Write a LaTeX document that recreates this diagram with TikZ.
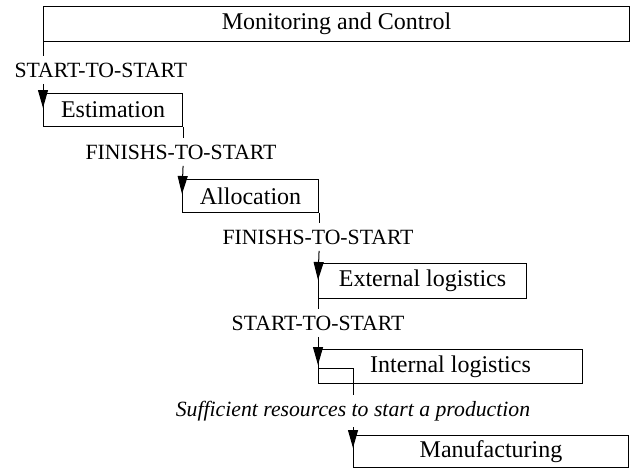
\documentclass[tikz,border=0pt]{standalone}
\usepackage{fontspec}
\setmainfont{Liberation Serif}
\usepackage{tikz}
\usetikzlibrary{arrows.meta,calc}

\tikzset{
  task/.style={draw, line width=0.8pt, anchor=north west, inner sep=0pt,
    font=\fontsize{18}{20}\selectfont},
  link/.style={inner xsep=0pt, inner ysep=4.5pt, font=\fontsize{16.3}{19}\selectfont},
  arr/.style={-{Triangle[length=13.5pt,width=7.5pt]}},
}

\begin{document}
\begin{tikzpicture}[x=0.75pt,y=0.75pt,yscale=-1,xscale=1,line width=0.75pt]
\useasboundingbox (0,0) rectangle (635,472);

%Shape: Rectangle [Monitoring]
\node [task, minimum width=439.5pt, minimum height=26.25pt] (mon) at (43,6) {Monitoring and Control};
%Shape: Rectangle [Estimation]
\node [task, minimum width=104.25pt, minimum height=24.75pt] (est) at (43,93) {Estimation};
%Shape: Rectangle [Allocation]
\node [task, minimum width=102pt, minimum height=24.75pt] (alloc) at (182,179) {Allocation};
%Shape: Rectangle [External logistics]
\node [task, minimum width=156pt, minimum height=26.25pt] (ext) at (318,263) {External logistics};
%Shape: Rectangle [Internal logistics]
\node [task, minimum width=198pt, minimum height=25.5pt] (int) at (318,349) {Internal logistics};
%Shape: Rectangle [Manufacturing]
\node [task, minimum width=206.25pt, minimum height=24pt] (manu) at (353,435) {Manufacturing};

% Text Node
\node [link, anchor=west] (ss1) at (14,70) {START-TO-START};
% Text Node
\node [link] (fs1) at (181,152) {FINISHS-TO-START};
% Text Node
\node [link] (fs2) at (318,237) {FINISHS-TO-START};
% Text Node
\node [link] (ss2) at (318,323) {START-TO-START};
% Text Node
\node [link, font=\fontsize{16.3}{19}\selectfont\itshape] (suf) at (353,411) {Sufficient resources to start a production};

%Straight Lines
\draw (mon.south west) -- (mon.south west |- ss1.north);
\draw [arr] (mon.south west |- ss1.south) -- ($(est.north west)+(0,15)$);
%Straight Lines
\draw (est.south east) -- (est.south east |- fs1.north);
\draw [arr] (est.south east |- fs1.south) -- ($(alloc.north west)+(0,15)$);
%Straight Lines
\draw (alloc.south east) -- (alloc.south east |- fs2.north);
\draw [arr] (alloc.south east |- fs2.south) -- ($(ext.north west)+(0,17)$);
%Straight Lines
\draw (ext.south west) -- (ext.south west |- ss2.north);
\draw [arr] (ext.south west |- ss2.south) -- ($(int.north west)+(0,16)$);
%Straight Lines
\coordinate (brk) at ($(int.south west)+(0,-16)$);
\draw (brk) -- (brk -| manu.north west) -- (manu.north west |- suf.north);
\draw [arr] (manu.north west |- suf.south) -- ($(manu.north west)+(0,13)$);

\end{tikzpicture}
\end{document}
